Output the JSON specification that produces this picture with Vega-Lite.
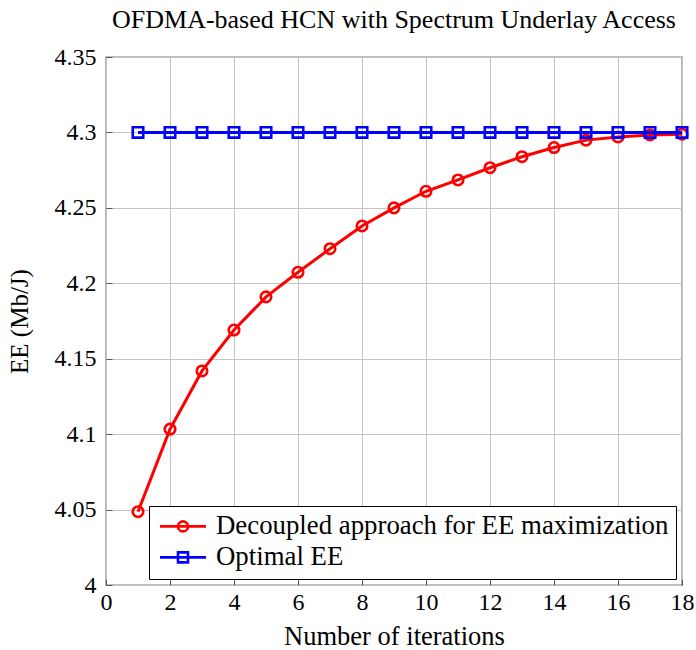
{
  "$schema": "https://vega.github.io/schema/vega-lite/v6.json",
  "autosize": {"type": "none"},
  "padding": {"left": 106, "top": 57, "right": 14, "bottom": 65},
  "width": 576,
  "height": 528,
  "background": "white",
  "title": {
    "text": "OFDMA-based HCN with Spectrum Underlay Access",
    "font": "Liberation Serif",
    "fontSize": 26,
    "fontWeight": "normal",
    "color": "black",
    "anchor": "middle",
    "offset": 12
  },
  "config": {
    "view": {"stroke": "black", "strokeWidth": 1.2},
    "axis": {
      "labelFont": "Liberation Serif",
      "titleFont": "Liberation Serif",
      "labelColor": "black",
      "titleColor": "black",
      "titleFontWeight": "normal",
      "grid": true,
      "gridColor": "#c4c4c4",
      "gridWidth": 1,
      "domain": false,
      "ticks": true,
      "tickSize": -6,
      "tickColor": "#555555",
      "tickWidth": 1,
      "labelFlush": false,
      "labelOverlap": false
    }
  },
  "data": {
    "values": [
      {"series": "Decoupled approach for EE maximization", "iter": 1, "ee": 4.0486},
      {"series": "Decoupled approach for EE maximization", "iter": 2, "ee": 4.1033},
      {"series": "Decoupled approach for EE maximization", "iter": 3, "ee": 4.1419},
      {"series": "Decoupled approach for EE maximization", "iter": 4, "ee": 4.169},
      {"series": "Decoupled approach for EE maximization", "iter": 5, "ee": 4.191},
      {"series": "Decoupled approach for EE maximization", "iter": 6, "ee": 4.2073},
      {"series": "Decoupled approach for EE maximization", "iter": 7, "ee": 4.2229},
      {"series": "Decoupled approach for EE maximization", "iter": 8, "ee": 4.238},
      {"series": "Decoupled approach for EE maximization", "iter": 9, "ee": 4.25},
      {"series": "Decoupled approach for EE maximization", "iter": 10, "ee": 4.261},
      {"series": "Decoupled approach for EE maximization", "iter": 11, "ee": 4.2685},
      {"series": "Decoupled approach for EE maximization", "iter": 12, "ee": 4.2766},
      {"series": "Decoupled approach for EE maximization", "iter": 13, "ee": 4.2839},
      {"series": "Decoupled approach for EE maximization", "iter": 14, "ee": 4.29},
      {"series": "Decoupled approach for EE maximization", "iter": 15, "ee": 4.2949},
      {"series": "Decoupled approach for EE maximization", "iter": 16, "ee": 4.297},
      {"series": "Decoupled approach for EE maximization", "iter": 17, "ee": 4.2983},
      {"series": "Decoupled approach for EE maximization", "iter": 18, "ee": 4.2988},
      {"series": "Optimal EE", "iter": 1, "ee": 4.3},
      {"series": "Optimal EE", "iter": 2, "ee": 4.3},
      {"series": "Optimal EE", "iter": 3, "ee": 4.3},
      {"series": "Optimal EE", "iter": 4, "ee": 4.3},
      {"series": "Optimal EE", "iter": 5, "ee": 4.3},
      {"series": "Optimal EE", "iter": 6, "ee": 4.3},
      {"series": "Optimal EE", "iter": 7, "ee": 4.3},
      {"series": "Optimal EE", "iter": 8, "ee": 4.3},
      {"series": "Optimal EE", "iter": 9, "ee": 4.3},
      {"series": "Optimal EE", "iter": 10, "ee": 4.3},
      {"series": "Optimal EE", "iter": 11, "ee": 4.3},
      {"series": "Optimal EE", "iter": 12, "ee": 4.3},
      {"series": "Optimal EE", "iter": 13, "ee": 4.3},
      {"series": "Optimal EE", "iter": 14, "ee": 4.3},
      {"series": "Optimal EE", "iter": 15, "ee": 4.3},
      {"series": "Optimal EE", "iter": 16, "ee": 4.3},
      {"series": "Optimal EE", "iter": 17, "ee": 4.3},
      {"series": "Optimal EE", "iter": 18, "ee": 4.3}
    ]
  },
  "encoding": {
    "x": {
      "field": "iter",
      "type": "quantitative",
      "scale": {"domain": [0, 18], "nice": false, "zero": false},
      "axis": {
        "values": [0, 2, 4, 6, 8, 10, 12, 14, 16, 18],
        "labelFontSize": 24,
        "labelPadding": 11,
        "title": "Number of iterations",
        "titleFontSize": 26.5,
        "titlePadding": 9
      }
    },
    "y": {
      "field": "ee",
      "type": "quantitative",
      "scale": {"domain": [4, 4.35], "nice": false, "zero": false},
      "axis": {
        "values": [4, 4.05, 4.1, 4.15, 4.2, 4.25, 4.3, 4.35],
        "format": "~g",
        "labelFontSize": 24,
        "labelPadding": 16,
        "title": "EE (Mb/J)",
        "titleFontSize": 25,
        "titlePadding": 22
      }
    }
  },
  "layer": [
    {
      "transform": [{"filter": "datum.series === 'Decoupled approach for EE maximization'"}],
      "mark": {"type": "line", "color": "#ff0000", "strokeWidth": 3}
    },
    {
      "transform": [{"filter": "datum.series === 'Decoupled approach for EE maximization'"}],
      "mark": {"type": "point", "shape": "circle", "filled": false, "size": 110, "strokeWidth": 2.6, "opacity": 1, "color": "#ff0000"}
    },
    {
      "transform": [{"filter": "datum.series === 'Optimal EE'"}],
      "mark": {"type": "line", "color": "#0000ff", "strokeWidth": 3}
    },
    {
      "transform": [{"filter": "datum.series === 'Optimal EE'"}],
      "mark": {"type": "point", "shape": "square", "filled": false, "size": 110, "strokeWidth": 2.6, "opacity": 1, "color": "#0000ff"}
    },
    {
      "transform": [{"filter": "datum.iter < 0"}],
      "mark": {"type": "point", "filled": false, "strokeWidth": 2.6},
      "encoding": {
        "color": {
          "field": "series",
          "type": "nominal",
          "scale": {"domain": ["Decoupled approach for EE maximization", "Optimal EE"], "range": ["#ff0000", "#0000ff"]},
          "legend": {
            "title": null,
            "orient": "bottom-right",
            "offset": 6,
            "fillColor": "white",
            "strokeColor": "black",
            "padding": 7,
            "rowPadding": 3,
            "labelFont": "Liberation Serif",
            "labelFontSize": 26.8,
            "labelColor": "black",
            "labelOffset": 33.2,
            "labelLimit": 0,
            "symbolSize": 400,
            "symbolStrokeWidth": 2.6,
            "symbolOpacity": 1
          }
        },
        "shape": {
          "field": "series",
          "type": "nominal",
          "scale": {
            "domain": ["Decoupled approach for EE maximization", "Optimal EE"],
            "range": [
              "M-0.94,0L3.66,0M1.86,0A0.5,0.5 0 1,1 0.86,0A0.5,0.5 0 1,1 1.86,0",
              "M-0.94,0L3.66,0M0.86,-0.5L1.86,-0.5L1.86,0.5L0.86,0.5Z"
            ]
          },
          "legend": {
            "title": null,
            "orient": "bottom-right",
            "offset": 6,
            "fillColor": "white",
            "strokeColor": "black",
            "padding": 7,
            "rowPadding": 3,
            "labelFont": "Liberation Serif",
            "labelFontSize": 26.8,
            "labelColor": "black",
            "labelOffset": 33.2,
            "labelLimit": 0,
            "symbolSize": 400,
            "symbolStrokeWidth": 2.6,
            "symbolOpacity": 1
          }
        }
      }
    }
  ]
}
